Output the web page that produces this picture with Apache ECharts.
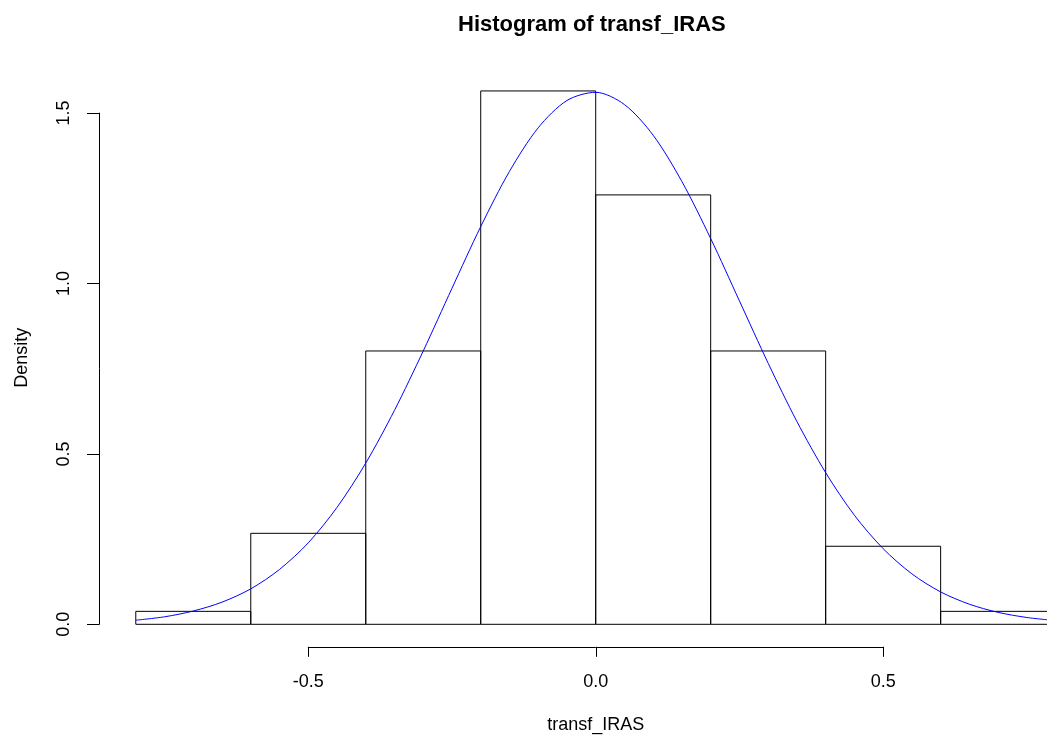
<!DOCTYPE html>
<html>
<head>
<meta charset="utf-8">
<title>Histogram of transf_IRAS</title>
<script src="https://cdn.jsdelivr.net/npm/echarts/dist/echarts.min.js"></script>
<style>
  html, body { margin: 0; padding: 0; background: #ffffff; }
  #chart { width: 1047px; height: 738px; }
</style>
</head>
<body>
<div id="chart"></div>
<script>
// Histogram bins (edges every 0.2) and their densities
var binStarts = [-0.8, -0.6, -0.4, -0.2, 0.0, 0.2, 0.4, 0.6];
var binEnds   = [-0.6, -0.4, -0.2, 0.0, 0.2, 0.4, 0.6, 0.8];
var densities = [0.038, 0.267, 0.802, 1.565, 1.260, 0.802, 0.229, 0.038];

// Fitted normal density curve, sampled along x
var curveX = [-0.80, -0.75, -0.70, -0.65, -0.60, -0.55, -0.50, -0.45, -0.40, -0.35, -0.30,
              -0.25, -0.20, -0.15, -0.10, -0.05, 0.00, 0.05, 0.10, 0.15, 0.20, 0.25,
              0.30, 0.35, 0.40, 0.45, 0.50, 0.55, 0.60, 0.65, 0.70, 0.75, 0.80];
var curveY = [0.012, 0.022, 0.039, 0.065, 0.104, 0.161, 0.239, 0.343, 0.473, 0.628, 0.802,
              0.986, 1.167, 1.329, 1.457, 1.537, 1.561, 1.525, 1.435, 1.299, 1.132, 0.949,
              0.766, 0.595, 0.445, 0.320, 0.222, 0.148, 0.095, 0.059, 0.035, 0.020, 0.011];

// Tick labels of the two axes
var xTicks = [-0.5, 0.0, 0.5];
var yTicks = [0.0, 0.5, 1.0, 1.5];

var histData = binStarts.map(function (s, i) { return [s, binEnds[i], densities[i]]; });
var curveData = curveX.map(function (x, i) { return [x, curveY[i]]; });

var FONT = '"Liberation Sans", Arial, sans-serif';
var fmt = function (v) { return Number(v).toFixed(1); };

var chart = echarts.init(document.getElementById('chart'), null, { renderer: 'canvas' });

chart.setOption({
  animation: false,
  backgroundColor: '#ffffff',
  textStyle: { fontFamily: FONT },
  title: {
    text: 'Histogram of transf_IRAS',
    left: 458,
    top: 14,
    padding: 0,
    textStyle: { fontFamily: FONT, fontSize: 22, fontWeight: 'bold', color: '#000000' }
  },
  grid: [
    // plotting region
    { left: 99, right: 0, top: 68.8, bottom: 91.2, outerBoundsMode: 'none', containLabel: false },
    // density axis
    { left: 99, width: 20, top: 113.1, bottom: 113.7, outerBoundsMode: 'none', containLabel: false },
    // transf_IRAS axis
    { left: 308.3, right: 163.7, top: 600, bottom: 91.2, outerBoundsMode: 'none', containLabel: false }
  ],
  xAxis: [
    { type: 'value', gridIndex: 0, min: -0.864, max: 0.785, show: false },
    { type: 'value', gridIndex: 1, min: 0, max: 1, show: false },
    {
      type: 'value', gridIndex: 2,
      min: xTicks[0], max: xTicks[xTicks.length - 1], interval: xTicks[1] - xTicks[0],
      name: 'transf_IRAS', nameLocation: 'middle', nameGap: 69,
      nameTextStyle: { fontFamily: FONT, fontSize: 18, color: '#000000' },
      axisLine: { show: true, lineStyle: { color: '#000000', width: 1 } },
      axisTick: { show: true, inside: false, length: 10, lineStyle: { color: '#000000', width: 1 } },
      axisLabel: { show: true, margin: 26, fontFamily: FONT, fontSize: 18, color: '#000000', formatter: fmt },
      splitLine: { show: false }
    }
  ],
  yAxis: [
    {
      type: 'value', gridIndex: 0, min: -0.066, max: 1.63,
      name: 'Density', nameLocation: 'middle', nameGap: 68, nameRotate: 90,
      nameTextStyle: { fontFamily: FONT, fontSize: 18, color: '#000000' },
      axisLine: { show: false }, axisTick: { show: false }, axisLabel: { show: false },
      splitLine: { show: false }
    },
    {
      type: 'value', gridIndex: 1,
      min: yTicks[0], max: yTicks[yTicks.length - 1], interval: yTicks[1] - yTicks[0],
      axisLine: { show: true, lineStyle: { color: '#000000', width: 1 } },
      axisTick: { show: true, inside: false, length: 12, lineStyle: { color: '#000000', width: 1 } },
      axisLabel: { show: true, rotate: 90, margin: 26, fontFamily: FONT, fontSize: 18, color: '#000000', formatter: fmt },
      splitLine: { show: false }
    },
    { type: 'value', gridIndex: 2, show: false }
  ],
  series: [
    {
      type: 'custom',
      name: 'histogram',
      xAxisIndex: 0, yAxisIndex: 0,
      clip: true,
      silent: true,
      data: histData,
      encode: { x: [0, 1], y: 2 },
      renderItem: function (params, api) {
        var p0 = api.coord([api.value(0), api.value(2)]);
        var p1 = api.coord([api.value(1), 0]);
        return {
          type: 'rect',
          shape: { x: p0[0], y: p0[1], width: p1[0] - p0[0], height: p1[1] - p0[1] },
          style: { fill: 'none', stroke: '#000000', lineWidth: 1 }
        };
      }
    },
    {
      type: 'line',
      name: 'normal density',
      xAxisIndex: 0, yAxisIndex: 0,
      data: curveData,
      showSymbol: false,
      symbol: 'none',
      smooth: 0.3,
      silent: true,
      clip: true,
      lineStyle: { color: '#0000ff', width: 1 }
    }
  ]
});
</script>
</body>
</html>
